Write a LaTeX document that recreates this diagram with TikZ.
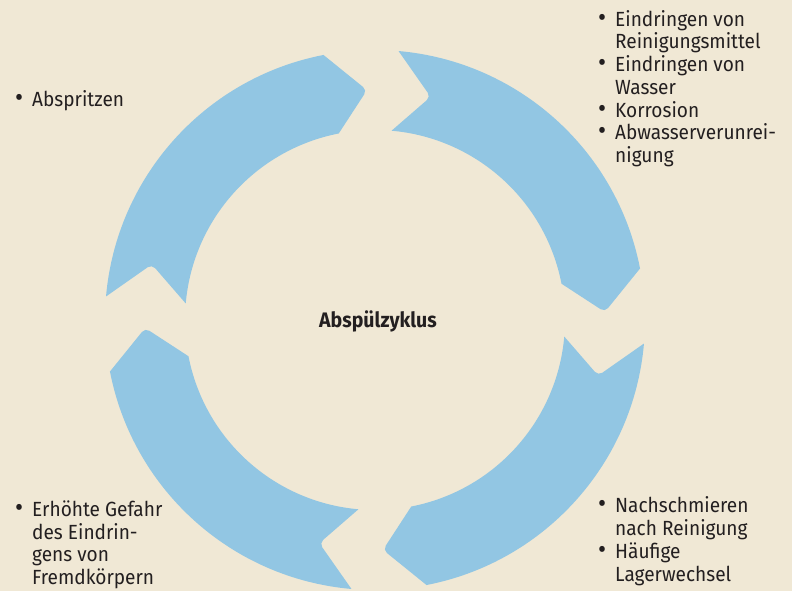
\documentclass[tikz,border=0pt]{standalone}
\usepackage{fontspec}
\setmainfont{Fira Sans}[FakeStretch=0.93]
\usetikzlibrary{positioning}
\definecolor{bgbeige}{RGB}{240,232,213}
\definecolor{cycleblue}{RGB}{146,198,227}
\definecolor{txtgray}{RGB}{35,31,32}
\newcommand{\bul}{\makebox[17pt][l]{\scalebox{1.3}{\textbullet}}}
\newcommand{\ind}{\hspace*{17pt}}

\begin{document}
\begin{tikzpicture}[x=1pt,y=1pt,
            every node/.append style = {text=txtgray, inner sep=0pt},
            list/.style = {anchor=base west, align=left, font=\fontsize{20.5}{22.7}\selectfont},
            segment/.style = {fill=cycleblue}]
        \fill[bgbeige] (-375,-271) rectangle (417,320);
        \useasboundingbox (-375,-271) rectangle (417,320);
        % the four arc arrows, clockwise
        \foreach \a in {85,-5,-95,175} {
            \fill[segment] (\a:270) arc[start angle=\a, end angle=\a-74, radius=270]
                [rounded corners=5pt] -- (\a-83:230) [sharp corners] -- (\a-74:190)
                arc[start angle=\a-74, end angle=\a, radius=190]
                [rounded corners=5pt] -- (\a-9:230) [sharp corners] -- cycle;
        }
        \node[font=\bfseries\fontsize{21}{24}\selectfont] (ncycle) at (3,-1) {Abspülzyklus};
        % lists are placed at the baseline of their last line
        \node[list] (nrinse) at (223,157.5) {\bul Eindringen von\\\ind Reinigungsmittel\\\bul Eindringen von\\\ind Wasser\\\bul Korrosion\\\bul Abwasserverunrei-\\\ind nigung};
        \node[list] (nspray) at (-360,213) {\bul Abspritzen};
        \node[list] (ningress) at (-360,-264.5) {\bul Erhöhte Gefahr\\\ind des Eindrin-\\\ind gens von\\\ind Fremdkörpern};
        \node[list] (nrelube) at (223,-261) {\bul Nachschmieren\\\ind nach Reinigung\\\bul Häufige\\\ind Lagerwechsel};
\end{tikzpicture}
\end{document}
